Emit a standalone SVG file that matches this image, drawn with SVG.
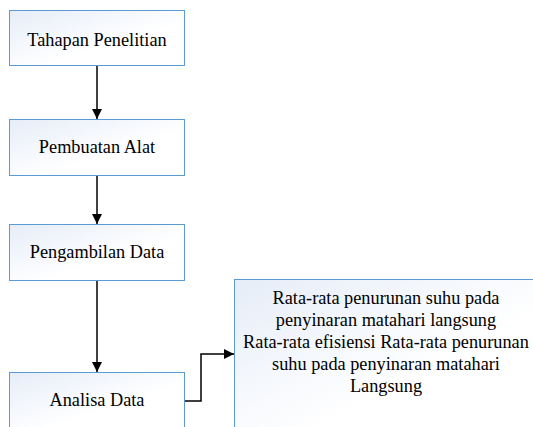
<svg xmlns="http://www.w3.org/2000/svg" width="533" height="427" viewBox="0 0 533 427">
<style>
.box{stroke:#5b9bd5;stroke-width:1;fill:url(#g)}
.c{stroke:#000;stroke-width:1.5;fill:none;marker-end:url(#a)}
</style>
<defs>
<linearGradient id="g" x1="0" y1="0" x2="1" y2="1">
<stop offset="0" stop-color="#e6edf8"/>
<stop offset="0.6" stop-color="#ffffff"/>
</linearGradient>
<marker id="a" viewBox="0 0 10 10" refX="10" refY="5" markerWidth="10" markerHeight="10" markerUnits="userSpaceOnUse" orient="auto">
<path d="M0,0 L10,5 L0,10 z" fill="#000"/>
</marker>
</defs>
<g id="n1"><rect class="box" x="9.5" y="10.5" width="175" height="55"/><text x="97" y="45.5" font-family="'Liberation Serif', serif" font-size="18.3" text-anchor="middle">Tahapan Penelitian</text></g>
<g id="n2"><rect class="box" x="9.5" y="119.5" width="175" height="56"/><text x="97" y="153" font-family="'Liberation Serif', serif" font-size="18.3" text-anchor="middle">Pembuatan Alat</text></g>
<g id="n3"><rect class="box" x="9.5" y="224.5" width="175" height="56"/><text x="97" y="258" font-family="'Liberation Serif', serif" font-size="18.3" text-anchor="middle">Pengambilan Data</text></g>
<g id="n4"><rect class="box" x="9.5" y="372.5" width="175" height="57"/><text x="97" y="406" font-family="'Liberation Serif', serif" font-size="18.3" text-anchor="middle">Analisa Data</text></g>
<g id="n5"><rect class="box" x="234.5" y="279.5" width="303" height="160"/>
<text x="386" y="304" font-family="'Liberation Serif', serif" font-size="18.3" text-anchor="middle">Rata-rata penurunan suhu pada</text>
<text x="386" y="326" font-family="'Liberation Serif', serif" font-size="18.3" text-anchor="middle">penyinaran matahari langsung</text>
<text x="386" y="348" font-family="'Liberation Serif', serif" font-size="18.3" text-anchor="middle">Rata-rata efisiensi Rata-rata penurunan</text>
<text x="386" y="370" font-family="'Liberation Serif', serif" font-size="18.3" text-anchor="middle">suhu pada penyinaran matahari</text>
<text x="386" y="392" font-family="'Liberation Serif', serif" font-size="18.3" text-anchor="middle">Langsung</text>
</g>
<g id="connectors">
<path class="c" d="M97,66 V119"/>
<path class="c" d="M97,176 V224"/>
<path class="c" d="M97,281 V372"/>
<path class="c" d="M185,401 H201 V354 H234"/>
</g>
</svg>
